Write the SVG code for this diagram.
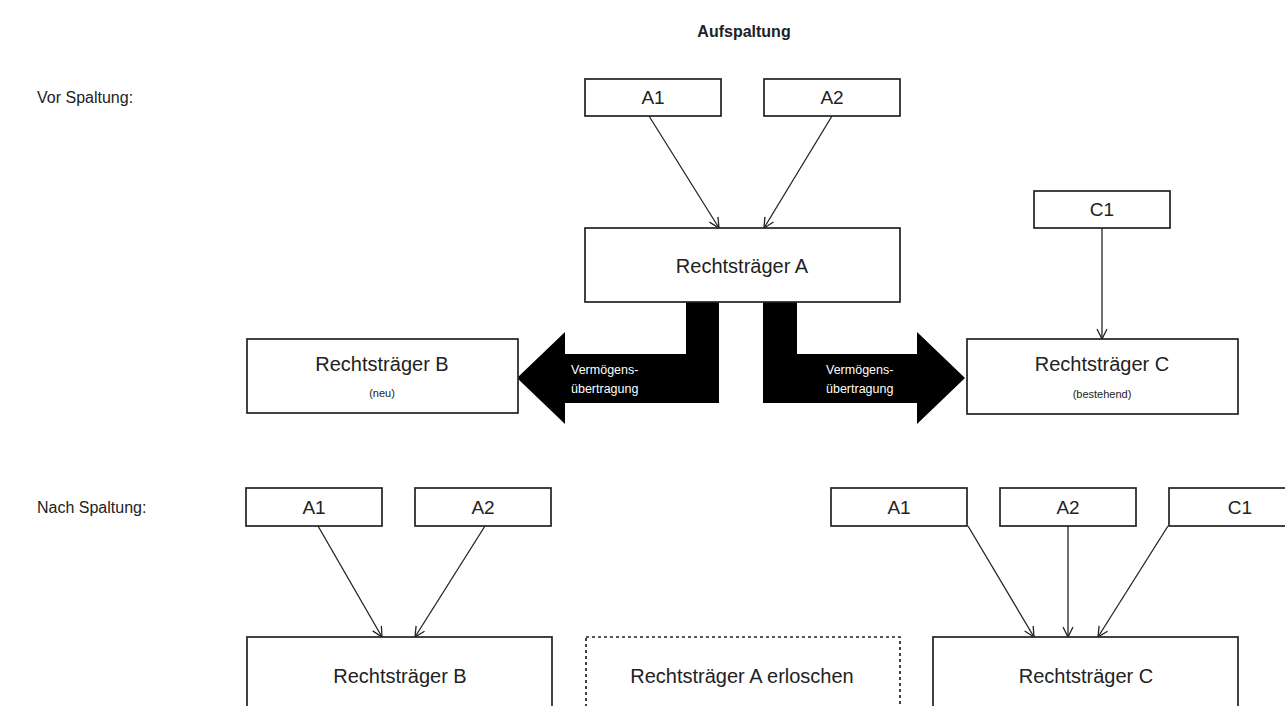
<svg xmlns="http://www.w3.org/2000/svg" width="1285" height="706" viewBox="0 0 1285 706">
<defs>
<style>
text{font-family:"Liberation Sans",Arial,sans-serif;fill:#222;}
.box{fill:#fff;stroke:#222;stroke-width:1.7;}
.dot{fill:#fff;stroke:#222;stroke-width:1.7;stroke-dasharray:3 3;}
.lbl{font-size:20px;text-anchor:middle;}
.sm{font-size:19px;text-anchor:middle;}
.sub{font-size:11px;text-anchor:middle;}
.side{font-size:16px;}
.title{font-size:16px;font-weight:bold;text-anchor:middle;}
.conn{stroke:#222;stroke-width:1.3;fill:none;marker-end:url(#arr);}
.fat{fill:#000;stroke:none;}
.wt{font-size:12.5px;fill:#fff;}
</style>
<marker id="arr" viewBox="0 0 12 12" refX="11" refY="6" markerWidth="12" markerHeight="12" markerUnits="userSpaceOnUse" orient="auto">
<path d="M1,1 L11,6 L1,11" fill="none" stroke="#222" stroke-width="1.3"/>
</marker>
</defs>
<rect width="1285" height="706" fill="#fff"/>

<text class="title" x="744" y="37">Aufspaltung</text>
<text class="side" x="37" y="103">Vor Spaltung:</text>
<text class="side" x="37" y="513">Nach Spaltung:</text>

<g id="connectors">
<line class="conn" x1="649" y1="116" x2="719" y2="228"/>
<line class="conn" x1="832" y1="116" x2="764" y2="228"/>
<line class="conn" x1="1102" y1="228" x2="1102" y2="339"/>
<line class="conn" x1="318" y1="526" x2="382" y2="637"/>
<line class="conn" x1="485" y1="526" x2="415" y2="637"/>
<line class="conn" x1="968" y1="526" x2="1034" y2="637"/>
<line class="conn" x1="1068" y1="526" x2="1068" y2="637"/>
<line class="conn" x1="1168" y1="526" x2="1098" y2="637"/>
<g id="transfer-left">
<polygon class="fat" points="686,302 719,302 719,403 565,403 565,424 517,378 565,332 565,354 686,354"/>
<text class="wt" x="571" y="374">Vermögens-</text>
<text class="wt" x="571" y="393">übertragung</text>
</g>
<g id="transfer-right">
<polygon class="fat" points="763,302 797,302 797,354 917,354 917,332 965,378 917,424 917,403 763,403"/>
<text class="wt" x="826" y="374">Vermögens-</text>
<text class="wt" x="826" y="393">übertragung</text>
</g>
</g>

<g id="top-a1"><rect class="box" x="585" y="79" width="136" height="37"/><text class="sm" x="653" y="104">A1</text></g>
<g id="top-a2"><rect class="box" x="764" y="79" width="136" height="37"/><text class="sm" x="832" y="104">A2</text></g>
<g id="top-ra"><rect class="box" x="585" y="228" width="315" height="74"/><text class="lbl" x="742" y="273">Rechtsträger A</text></g>
<g id="top-c1"><rect class="box" x="1034" y="191" width="136" height="37"/><text class="sm" x="1102" y="216">C1</text></g>
<g id="top-rb"><rect class="box" x="247" y="339" width="271" height="74"/><text class="lbl" x="382" y="371">Rechtsträger B</text><text class="sub" x="382" y="397">(neu)</text></g>
<g id="top-rc"><rect class="box" x="967" y="339" width="271" height="75"/><text class="lbl" x="1102" y="371">Rechtsträger C</text><text class="sub" x="1102" y="398">(bestehend)</text></g>

<g id="bot-a1-left"><rect class="box" x="246" y="488" width="136" height="38"/><text class="sm" x="314" y="514">A1</text></g>
<g id="bot-a2-left"><rect class="box" x="415" y="488" width="136" height="38"/><text class="sm" x="483" y="514">A2</text></g>
<g id="bot-a1-right"><rect class="box" x="831" y="488" width="136" height="38"/><text class="sm" x="899" y="514">A1</text></g>
<g id="bot-a2-right"><rect class="box" x="1000" y="488" width="136" height="38"/><text class="sm" x="1068" y="514">A2</text></g>
<g id="bot-c1-right"><rect class="box" x="1169" y="488" width="136" height="38"/><text class="sm" x="1240" y="514">C1</text></g>

<g id="bot-rb"><rect class="box" x="247" y="637" width="305" height="90"/><text class="lbl" x="400" y="683">Rechtsträger B</text></g>
<g id="bot-ra"><rect class="dot" x="586" y="637" width="314" height="90"/><text class="lbl" x="742" y="683">Rechtsträger A erloschen</text></g>
<g id="bot-rc"><rect class="box" x="933" y="637" width="305" height="90"/><text class="lbl" x="1086" y="683">Rechtsträger C</text></g>
</svg>
